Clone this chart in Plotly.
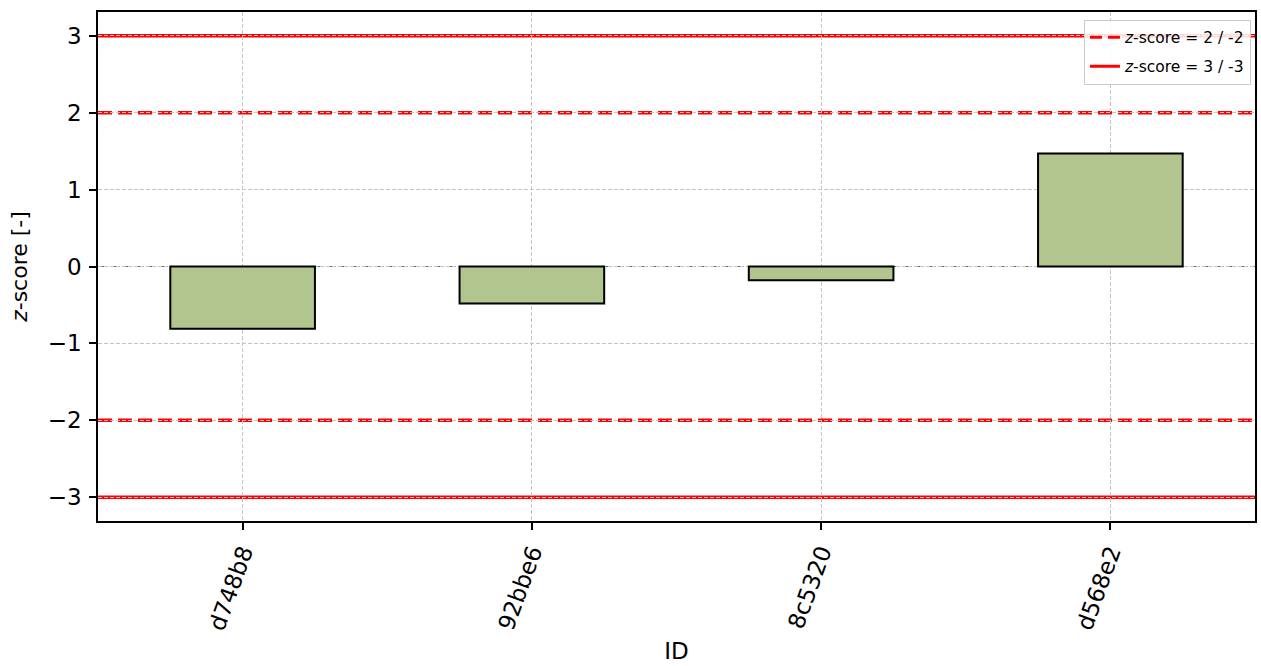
import plotly.graph_objects as go

ids = ["d748b8", "92bbe6", "8c5320", "d568e2"]
zscores = [-0.81, -0.48, -0.18, 1.47]
y_ticks = [-3, -2, -1, 0, 1, 2, 3]
y_tick_labels = ["\u22123", "\u22122", "\u22121", "0", "1", "2", "3"]
warn_levels = [2, -2]
alarm_levels = [3, -3]

fig = go.Figure()
fig.add_trace(go.Bar(
    x=ids, y=zscores, width=0.5,
    marker=dict(color="#b3c58f", line=dict(color="black", width=2)),
    showlegend=False,
))
fig.add_trace(go.Scatter(x=[None], y=[None], mode="lines",
                         line=dict(color="red", width=3, dash="12px,6px"),
                         name="<i>z</i>-score = 2 / -2", legendgroup="a"))
fig.add_trace(go.Scatter(x=[None], y=[None], mode="lines",
                         line=dict(color="red", width=3),
                         name="<i>z</i>-score = 3 / -3", legendgroup="b"))

shapes = []
for lv in warn_levels:
    shapes.append(dict(type="line", xref="paper", x0=0, x1=1, yref="y", y0=lv, y1=lv,
                       line=dict(color="red", width=3.5, dash="14px,6px"), layer="below"))
for lv in alarm_levels:
    shapes.append(dict(type="line", xref="paper", x0=0, x1=1, yref="y", y0=lv, y1=lv,
                       line=dict(color="red", width=3.5), layer="below"))
shapes.append(dict(type="line", xref="paper", x0=0, x1=1, yref="y", y0=0, y1=0,
                   line=dict(color="#666666", width=1, dash="2px,2px"), layer="below"))

fig.update_layout(
    width=1261, height=666,
    margin=dict(l=98, r=4, t=12, b=145),
    plot_bgcolor="white", paper_bgcolor="white",
    font=dict(family="DejaVu Sans", size=17, color="black"),
    shapes=shapes,
    legend=dict(x=0.9965, y=0.985, xanchor="right", yanchor="top",
                bgcolor="rgba(255,255,255,0.85)", bordercolor="#cccccc", borderwidth=1,
                font=dict(size=15.5), tracegroupgap=6),
    xaxis=dict(
        type="category", range=[-0.5, 3.5],
        title=dict(text="ID", font=dict(size=23), standoff=10),
        tickangle=-70, ticks="outside", ticklen=7, tickwidth=1.5, tickcolor="black",
        showline=True, linecolor="black", linewidth=1.5, mirror=True,
        showgrid=True, gridcolor="#c4c4c4", griddash="4px,2px", gridwidth=1,
        tickfont=dict(size=23),
    ),
    yaxis=dict(
        range=[-3.31, 3.31],
        tickvals=y_ticks, ticktext=y_tick_labels,
        title=dict(text="<i>z</i>-score [-]", font=dict(size=22), standoff=14),
        ticks="outside", ticklen=7, tickwidth=1.5, tickcolor="black",
        ticklabelstandoff=3,
        showline=True, linecolor="black", linewidth=1.5, mirror=True,
        showgrid=True, gridcolor="#c4c4c4", griddash="4px,2px", gridwidth=1,
        zeroline=False, tickfont=dict(size=23),
    ),
)

fig.write_html("out.html", config={"displayModeBar": False},
               post_script="document.body.style.margin='0px';")
